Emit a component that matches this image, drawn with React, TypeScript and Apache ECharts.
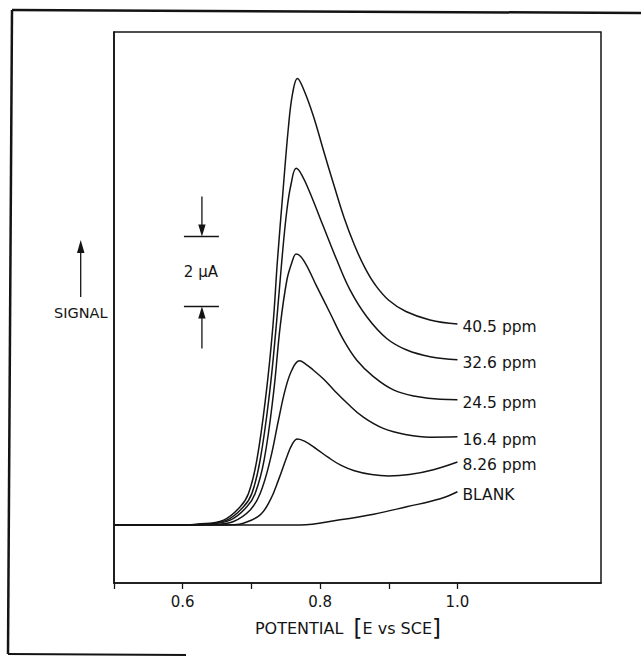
import React, { useEffect, useRef } from "react";
import * as echarts from "echarts";

// ---- data: potential (V vs SCE) / current (µA above baseline) ----
const seriesNames = ["40.5 ppm", "32.6 ppm", "24.5 ppm", "16.4 ppm", "8.26 ppm", "BLANK"];

const c405: [number, number][] = [
  [0.5, 0], [0.6, 0], [0.6207, 0.02], [0.6594, 0.14], [0.6837, 0.52], [0.6958, 0.9], [0.708, 1.86],
  [0.7215, 3.76], [0.7313, 5.67], [0.738, 7.57], [0.7458, 9.48], [0.754, 11.38], [0.76, 12.33],
  [0.767, 12.76], [0.776, 12.45], [0.79, 11.7], [0.805, 10.7], [0.82, 9.72], [0.835, 8.78],
  [0.85, 8.0], [0.865, 7.36], [0.88, 6.87], [0.9, 6.42], [0.925, 6.1], [0.96, 5.86], [1.0, 5.74],
];
const c326: [number, number][] = [
  [0.5, 0], [0.6, 0], [0.628, 0.02], [0.6643, 0.14], [0.6885, 0.52], [0.7007, 0.9], [0.7128, 1.86],
  [0.7264, 3.76], [0.7361, 5.67], [0.7444, 7.57], [0.7517, 9.0], [0.7579, 9.75], [0.7652, 10.19],
  [0.7735, 10.0], [0.7856, 9.48], [0.805, 8.52], [0.8244, 7.57], [0.8438, 6.71], [0.868, 5.95],
  [0.897, 5.33], [0.9263, 5.0], [0.9603, 4.81], [1.0, 4.72],
];
const c245: [number, number][] = [
  [0.5, 0], [0.6, 0], [0.6328, 0.02], [0.6691, 0.14], [0.6934, 0.52], [0.7055, 0.9], [0.7186, 1.86],
  [0.7322, 3.76], [0.7419, 5.67], [0.7517, 7.0], [0.759, 7.5], [0.7652, 7.74], [0.7758, 7.57],
  [0.7953, 6.81], [0.8147, 6.05], [0.8341, 5.29], [0.8535, 4.71], [0.8777, 4.24], [0.9068, 3.86],
  [0.9409, 3.67], [0.9748, 3.59], [1.0, 3.58],
];
const c164: [number, number][] = [
  [0.5, 0], [0.6, 0], [0.6498, 0.02], [0.674, 0.1], [0.6983, 0.43], [0.7128, 0.9], [0.7274, 1.86],
  [0.7395, 3.0], [0.7492, 3.86], [0.759, 4.43], [0.77, 4.69], [0.779, 4.6], [0.79, 4.43],
  [0.805, 4.17], [0.82, 3.86], [0.84, 3.47], [0.863, 3.08], [0.892, 2.76], [0.926, 2.58],
  [0.96, 2.51], [1.0, 2.52],
];
const c826: [number, number][] = [
  [0.5, 0], [0.6, 0], [0.674, 0.01], [0.6885, 0.05], [0.7128, 0.29], [0.7274, 0.71], [0.7395, 1.29],
  [0.7517, 1.95], [0.759, 2.29], [0.767, 2.46], [0.778, 2.39], [0.795, 2.17], [0.812, 1.93],
  [0.83, 1.71], [0.85, 1.55], [0.875, 1.44], [0.9, 1.4], [0.93, 1.44], [0.965, 1.58], [1.0, 1.8],
];
const cBlank: [number, number][] = [
  [0.5, 0], [0.6, 0], [0.7, 0], [0.771, 0], [0.829, 0.15], [0.878, 0.31], [0.926, 0.52], [0.975, 0.75], [1.0, 0.95],
];
const curves = [c405, c326, c245, c164, c826, cBlank];

const xTicks = [0.5, 0.6, 0.7, 0.8, 0.9, 1.0];
const xLabels = [0.6, 0.8, 1.0];

// scale bar: 2 µA between the two marks
const scaleBarE = 0.628;
const scaleBarLow = 6.24;
const scaleBarSpan = 2;

const FONT = "'DejaVu Sans', 'Liberation Sans', sans-serif";
const INK = "#141414";

export default function App() {
  const ref = useRef<HTMLDivElement>(null);
  useEffect(() => {
    if (!ref.current) return;
    const chart = echarts.init(ref.current, null, { renderer: "svg" });
    const option: any = {
      animation: false,
      backgroundColor: "#ffffff",
      grid: {
        left: 114, top: 32, right: 40, bottom: 73,
        show: true, borderColor: INK, borderWidth: 1.5,
        containLabel: false, outerBoundsMode: "none",
      },
      xAxis: {
        type: "value", min: 0.5, max: 1.209,
        axisLine: { show: true, onZero: false, lineStyle: { color: INK, width: 1.6 } },
        axisTick: { show: true, customValues: xTicks, length: 6, lineStyle: { color: INK, width: 1.3 } },
        axisLabel: {
          customValues: xLabels, formatter: (v: number) => v.toFixed(1),
          color: INK, fontSize: 15, fontFamily: FONT, margin: 11,
        },
        splitLine: { show: false },
      },
      yAxis: {
        type: "value", min: -1.657, max: 14.086,
        axisLine: { show: true, onZero: false, lineStyle: { color: INK, width: 1.6 } },
        axisTick: { show: false }, axisLabel: { show: false }, splitLine: { show: false },
      },
      series: curves.map((c, i) => ({
        type: "line", name: seriesNames[i], data: c, smooth: 0.4,
        showSymbol: false, symbol: "none",
        lineStyle: { color: INK, width: 1.5 },
        endLabel: {
          show: true, formatter: seriesNames[i], color: INK, fontSize: 15.5, fontFamily: FONT,
          distance: 5, offset: [0, 3],
        },
      })),
    };
    chart.setOption(option);

    const pTop = chart.convertToPixel({ gridIndex: 0 }, [scaleBarE, scaleBarLow + scaleBarSpan]) as number[];
    const pLow = chart.convertToPixel({ gridIndex: 0 }, [scaleBarE, scaleBarLow]) as number[];
    const bx = pTop[0];
    const line = (x1: number, y1: number, x2: number, y2: number, w = 1.5) => ({
      type: "line", shape: { x1, y1, x2, y2 }, style: { stroke: INK, lineWidth: w }, silent: true,
    });
    const tri = (pts: number[][]) => ({ type: "polygon", shape: { points: pts }, style: { fill: INK }, silent: true });

    chart.setOption({
      graphic: [
        // scanned outer frame
        line(12, 10, 8, 654, 2.5),
        line(12, 10, 641, 13, 2.5),
        line(8, 654, 186, 655, 2),
        // SIGNAL arrow + label
        line(80.7, 297, 80.7, 250, 1.3),
        tri([[80.7, 240], [77, 253], [84.5, 253]]),
        { type: "text", x: 54, y: 313, style: { text: "SIGNAL", fill: INK, font: `14.5px ${FONT}`, verticalAlign: "middle", align: "left" } },
        // scale bar
        line(bx, pTop[1] - 40, bx, pTop[1] - 10, 1.3),
        tri([[bx, pTop[1]], [bx - 3.7, pTop[1] - 12], [bx + 3.7, pTop[1] - 12]]),
        line(bx - 18, pTop[1], bx + 17, pTop[1], 1.5),
        line(bx - 18, pLow[1], bx + 17, pLow[1], 1.5),
        tri([[bx, pLow[1]], [bx - 3.7, pLow[1] + 12], [bx + 3.7, pLow[1] + 12]]),
        line(bx, pLow[1] + 10, bx, pLow[1] + 42, 1.3),
        { type: "text", x: bx - 1, y: (pTop[1] + pLow[1]) / 2, style: { text: "2 µA", fill: INK, font: `15px ${FONT}`, align: "center", verticalAlign: "middle" } },
        // x axis title
        {
          type: "text", x: 348, y: 628,
          style: {
            text: "{a|POTENTIAL  }{b|[}{a|E vs SCE}{b|]}",
            align: "center", verticalAlign: "middle", fill: INK,
            rich: {
              a: { fontSize: 16, fontFamily: FONT, fill: INK },
              b: { fontSize: 23, fontFamily: FONT, fill: INK },
            },
          },
        },
      ],
    });
    return () => chart.dispose();
  }, []);
  return <div ref={ref} style={{ position: "absolute", left: 0, top: 0, width: 641, height: 656 }} />;
}
